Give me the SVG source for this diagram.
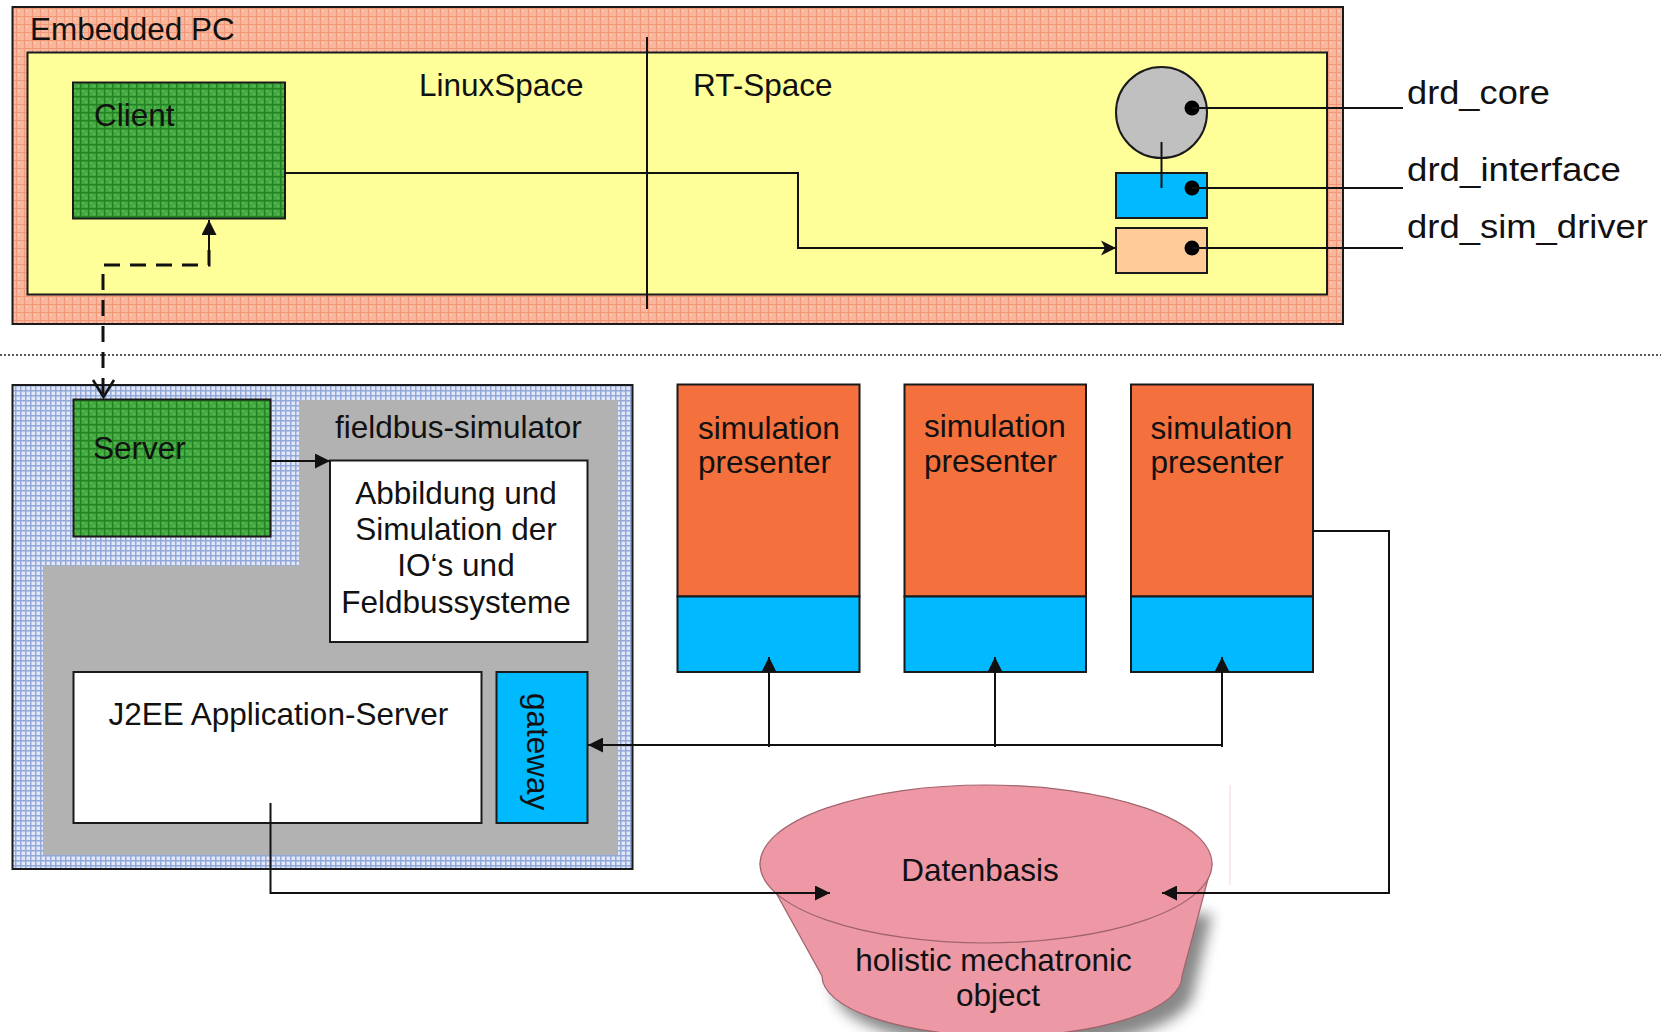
<svg xmlns="http://www.w3.org/2000/svg" width="1661" height="1032" viewBox="0 0 1661 1032">
  <style>
    text { font-family: "Liberation Sans", Arial, sans-serif; font-size: 31.5px; fill: #111; }
    .lbl { font-size: 33px; }
    .box { stroke: #1a1a1a; stroke-width: 2; }
    .line { fill: none; stroke: #111; stroke-width: 2; }
    .dash { fill: none; stroke: #111; stroke-width: 3; stroke-dasharray: 16 10; }
    .mid { text-anchor: middle; }
  </style>
  <defs>
    <pattern id="salmonGrid" width="8" height="8" patternUnits="userSpaceOnUse">
      <rect width="8" height="8" fill="#F8B69D"/>
      <rect x="2" y="2" width="2" height="2" fill="#FBC9B5"/>
      <path d="M0,0.5 H8 M0.5,0 V8" stroke="#F19878" stroke-width="1"/>
    </pattern>
    <pattern id="greenGrid" width="8" height="8" patternUnits="userSpaceOnUse">
      <rect width="8" height="8" fill="#42A842"/>
      <rect x="2" y="2" width="2" height="2" fill="#5DBB4D"/>
      <rect x="5" y="5" width="2" height="2" fill="#5DBB4D"/>
      <path d="M0,0.75 H8 M0.75,0 V8" stroke="#238423" stroke-width="1.5"/>
    </pattern>
    <pattern id="blueGrid" width="5" height="5" patternUnits="userSpaceOnUse">
      <rect width="5" height="5" fill="#E2E8F7"/>
      <path d="M0,0.75 H5 M0.75,0 V5" stroke="#93A8DA" stroke-width="1.5"/>
    </pattern>
    <marker id="arrow" markerUnits="userSpaceOnUse" markerWidth="16" markerHeight="15" refX="15" refY="7.5" orient="auto">
      <path d="M0,0 L15,7.5 L0,15 Z" fill="#111"/>
    </marker>
    <marker id="stealth" markerUnits="userSpaceOnUse" markerWidth="16" markerHeight="16" refX="15" refY="8" orient="auto">
      <path d="M0,0.5 L15,8 L0,15.5 L4,8 Z" fill="#111"/>
    </marker>
    <filter id="soft" x="-20%" y="-20%" width="140%" height="140%">
      <feGaussianBlur stdDeviation="7"/>
    </filter>
  </defs>

  <rect width="1661" height="1032" fill="#fff"/>

  <!-- Embedded PC frame -->
  <g id="embedded-pc">
    <rect x="12.5" y="7" width="1330.5" height="317" fill="url(#salmonGrid)" class="box"/>
    <text x="30" y="40">Embedded PC</text>
    <rect x="27.5" y="52.5" width="1299.5" height="242" fill="#FFFF99" class="box"/>
    <line x1="647" y1="37" x2="647" y2="309" class="line"/>
    <text x="419" y="95.5">LinuxSpace</text>
    <text x="693" y="96">RT-Space</text>
  </g>

  <g id="client">
    <rect x="73" y="82.5" width="212" height="136" fill="url(#greenGrid)" class="box"/>
    <text x="94" y="125.5">Client</text>
  </g>

  <g id="drd-core">
    <circle cx="1161.5" cy="112.5" r="45.5" fill="#C0C0C0" class="box"/>
    <circle cx="1192" cy="108" r="7.5" fill="#000"/>
  </g>
  <g id="drd-interface">
    <rect x="1116" y="173" width="91" height="45" fill="#00B9FF" class="box"/>
    <circle cx="1192" cy="188" r="7.5" fill="#000"/>
  </g>
  <g id="drd-sim-driver">
    <rect x="1116" y="228" width="91" height="45" fill="#FFCC99" class="box"/>
    <circle cx="1192" cy="248" r="7.5" fill="#000"/>
  </g>

  <g id="drd-labels">
    <text x="1407" y="104" class="lbl" textLength="143" lengthAdjust="spacingAndGlyphs">drd_core</text>
    <text x="1407" y="180.5" class="lbl" textLength="214" lengthAdjust="spacingAndGlyphs">drd_interface</text>
    <text x="1407" y="238" class="lbl" textLength="241" lengthAdjust="spacingAndGlyphs">drd_sim_driver</text>
  </g>

  <!-- separator between embedded PC and host side -->
  <line x1="0" y1="355" x2="1661" y2="355" stroke="#222" stroke-width="1.3" stroke-dasharray="2 2"/>

  <!-- host with fieldbus simulator -->
  <g id="host">
    <rect x="12.5" y="385" width="620" height="484" fill="url(#blueGrid)" class="box"/>
    <path d="M299,400 H618 V855 H43 V565.5 H299 Z" fill="#B2B2B2"/>
    <text x="335" y="438">fieldbus-simulator</text>
  </g>

  <g id="server">
    <rect x="73.5" y="399.5" width="197" height="137" fill="url(#greenGrid)" class="box"/>
    <text x="93" y="459">Server</text>
  </g>

  <g id="io-simulation">
    <rect x="330" y="460.5" width="257.5" height="181.5" fill="#fff" class="box"/>
    <text x="456" y="503.5" class="mid">Abbildung und</text>
    <text x="456" y="540" class="mid">Simulation der</text>
    <text x="456" y="576" class="mid">IO‘s und</text>
    <text x="456" y="612.5" class="mid">Feldbussysteme</text>
  </g>

  <g id="j2ee-server">
    <rect x="73.5" y="672" width="408" height="151" fill="#fff" class="box"/>
    <text x="108.5" y="724.5">J2EE Application-Server</text>
  </g>

  <g id="gateway">
    <rect x="496.5" y="672" width="91" height="151" fill="#00B9FF" class="box"/>
    <text transform="translate(527,693) rotate(90)">gateway</text>
  </g>

  <g id="presenter-1">
    <rect x="677.5" y="384.5" width="182" height="212" fill="#F4703C" class="box"/>
    <rect x="677.5" y="596.5" width="182" height="75.5" fill="#00B9FF" class="box"/>
    <text x="698" y="439">simulation</text>
    <text x="698" y="473">presenter</text>
  </g>
  <g id="presenter-2">
    <rect x="904.5" y="384.5" width="181.5" height="212" fill="#F4703C" class="box"/>
    <rect x="904.5" y="596.5" width="181.5" height="75.5" fill="#00B9FF" class="box"/>
    <text x="924" y="437">simulation</text>
    <text x="924" y="471.5">presenter</text>
  </g>
  <g id="presenter-3">
    <rect x="1131" y="384.5" width="182" height="212" fill="#F4703C" class="box"/>
    <rect x="1131" y="596.5" width="182" height="75.5" fill="#00B9FF" class="box"/>
    <text x="1150.5" y="439">simulation</text>
    <text x="1150.5" y="473">presenter</text>
  </g>

  <!-- database cone -->
  <g id="datenbasis">
    <path d="M800,900 L822,976 A180,60 0 0 0 1182,976 L1200,900 Z" fill="#555" opacity="0.7" transform="translate(12,14)" filter="url(#soft)"/>
    <line x1="1230" y1="785" x2="1230" y2="885" stroke="#F3D6DA" stroke-width="1"/>
    <path d="M760,864 L822,976 A180,60 0 0 0 1182,976 L1212,864 Z" fill="#EC98A5" stroke="#A0646C" stroke-width="1.2"/>
    <ellipse cx="986" cy="864" rx="226" ry="79" fill="#EE97A5" stroke="#A0646C" stroke-width="1.2"/>
    <text x="980" y="880.5" class="mid">Datenbasis</text>
    <text x="993.5" y="971" class="mid">holistic mechatronic</text>
    <text x="998" y="1006" class="mid">object</text>
  </g>

  <g id="connectors">
    <!-- client to sim driver -->
    <path d="M285,173 H798 V248 H1116" class="line" marker-end="url(#stealth)"/>
    <!-- callouts -->
    <path d="M1192,108 H1403 M1192,188 H1403 M1192,248 H1403" class="line"/>
    <line x1="1161.5" y1="142" x2="1161.5" y2="188" class="line"/>
    <!-- socket connection -->
    <path d="M103,394 V265 H209 V250" class="dash"/>
    <path d="M209,252 V220" class="line" stroke-width="3" marker-end="url(#arrow)"/>
    <path d="M93,380 L103.5,397 L114,380" fill="none" stroke="#111" stroke-width="2.6"/>
    <!-- server to simulation -->
    <path d="M270.5,461 H330" class="line" marker-end="url(#arrow)"/>
    <!-- presenter bus -->
    <path d="M1222,745 H588" class="line" marker-end="url(#arrow)"/>
    <path d="M769,747 V657" class="line" marker-end="url(#arrow)"/>
    <path d="M995,747 V657" class="line" marker-end="url(#arrow)"/>
    <path d="M1222,747 V657" class="line" marker-end="url(#arrow)"/>
    <!-- to database -->
    <path d="M270.5,803 V893 H830" class="line" marker-end="url(#arrow)"/>
    <path d="M1313,531 H1389 V893 H1162" class="line" marker-end="url(#arrow)"/>
  </g>
</svg>
